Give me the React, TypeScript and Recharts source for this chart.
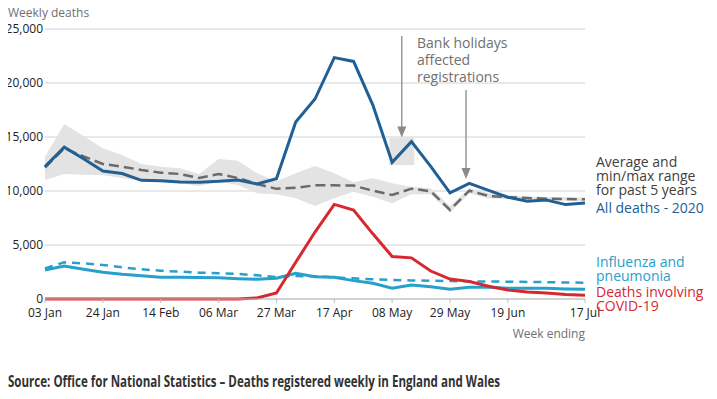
import { ComposedChart, Line, Area, XAxis, YAxis, CartesianGrid, ReferenceArea, ReferenceLine } from "recharts";

const weeks = [
  "03 Jan", "10 Jan", "17 Jan", "24 Jan", "31 Jan", "07 Feb", "14 Feb", "21 Feb", "28 Feb", "06 Mar",
  "13 Mar", "20 Mar", "27 Mar", "03 Apr", "10 Apr", "17 Apr", "24 Apr", "01 May", "08 May", "15 May",
  "22 May", "29 May", "05 Jun", "12 Jun", "19 Jun", "26 Jun", "03 Jul", "10 Jul", "17 Jul",
];
const tickWeeks = [0, 3, 6, 9, 12, 15, 18, 21, 24, 28];
const yTicks = [0, 5000, 10000, 15000, 20000, 25000];

const allDeaths2020 = [12254, 14058, 12990, 11856, 11612, 10986, 10944, 10841, 10816, 10895, 11019, 10645, 11141, 16387, 18516, 22351, 21997, 17953, 12657, 14573, 12288, 9824, 10709, 10050, 9420, 9050, 9160, 8740, 8880];
const avg5yr = [12175, 13950, 13200, 12500, 12250, 11950, 11700, 11575, 11200, 11575, 11200, 10650, 10200, 10300, 10530, 10530, 10500, 10030, 9630, 10215, 9970, 8250, 10030, 9540, 9420, 9350, 9290, 9260, 9230];
const min5yr = [11020, 11575, 11500, 11480, 11180, 10950, 10860, 10710, 10460, 10860, 10550, 9790, 9700, 9320, 8610, 9320, 9940, 9470, 8860, 9700, 9700, 8000, 9800, 9300, 9250, 9200, 9150, 9100, 9080];
const max5yr = [13180, 16200, 15100, 13950, 13330, 12500, 12250, 12100, 11575, 12960, 12800, 11640, 10900, 11640, 12315, 11640, 10800, 11180, 10710, 10400, 10250, 8600, 10250, 9800, 9600, 9500, 9450, 9420, 9400];
const flu2020 = [2685, 3055, 2750, 2470, 2285, 2160, 2010, 2010, 2000, 1970, 1880, 1820, 1915, 2380, 2070, 2010, 1700, 1450, 990, 1300, 1140, 900, 1080, 1080, 990, 990, 990, 930, 900];
const fluAvg5yr = [2840, 3400, 3300, 3150, 2935, 2750, 2620, 2530, 2440, 2380, 2315, 2190, 2030, 2130, 2100, 2000, 1915, 1820, 1760, 1720, 1690, 1660, 1640, 1620, 1600, 1580, 1560, 1530, 1510];
const covid2020 = [0, 0, 0, 0, 0, 0, 0, 0, 0, 0, 5, 103, 560, 3400, 6200, 8758, 8237, 6035, 3930, 3810, 2589, 1850, 1620, 1180, 830, 650, 560, 420, 340];

const data = weeks.map((w, i) => ({
  i,
  week: w,
  all: allDeaths2020[i],
  avg: avg5yr[i],
  range: [min5yr[i], max5yr[i]],
  flu: flu2020[i],
  fluAvg: fluAvg5yr[i],
  covid: covid2020[i],
}));

const FONT = "'Open Sans', sans-serif";
const GREY = "#707070";

function Arrow(props: any) {
  const { x1, y1, x2, y2 } = props;
  return (
    <g>
      <line x1={x1} y1={y1} x2={x2} y2={y2 - 10} stroke="#8a8a8a" strokeWidth={1.3} />
      <polygon points={`${x2 - 4.5},${y2 - 11} ${x2 + 4.5},${y2 - 11} ${x2},${y2}`} fill="#8a8a8a" />
    </g>
  );
}

export default function App() {
  return (
    <div style={{ position: "relative", width: 717, height: 399, fontFamily: FONT }}>
      <div style={{ position: "absolute", left: -8, top: -8, width: 717, height: 399, background: "#fff" }}>
        <ComposedChart
          width={717}
          height={345}
          data={data}
          margin={{ top: 29, right: 132, bottom: 16, left: 0 }}
          style={{ position: "absolute", left: 0, top: 0 }}
        >
          <CartesianGrid vertical={false} stroke="#d2d2d2" />
          <XAxis
            dataKey="i"
            type="number"
            domain={[0, 28]}
            ticks={tickWeeks}
            interval={0}
            tickFormatter={(v: number) => weeks[v]}
            tick={{ fontSize: 12, fill: "#222", fontFamily: FONT, textAnchor: "middle" }}
            tickSize={4}
            tickMargin={5}
            axisLine={{ stroke: "#bdbdbd" }}
            tickLine={{ stroke: "#bdbdbd" }}
            height={30}
          />
          <YAxis
            domain={[0, 25000]}
            ticks={yTicks}
            tickFormatter={(v: number) => v.toLocaleString("en-GB")}
            tick={{ fontSize: 12, fill: "#222", fontFamily: FONT }}
            axisLine={false}
            tickLine={false}
            tickSize={0}
            tickMargin={2}
            width={45}
          />
          <Area dataKey="range" type="linear" fill="#e3e3e3" fillOpacity={1} stroke="none" isAnimationActive={false} />
          <ReferenceArea x1={17.85} x2={19.15} y1={12400} y2={14900} fill="#e3e3e3" fillOpacity={1} stroke="none" />
          <Line dataKey="avg" type="linear" stroke="#6a6a6a" strokeWidth={2.5} strokeDasharray="10 5" dot={false} activeDot={false} isAnimationActive={false} />
          <Line dataKey="all" type="linear" stroke="#206095" strokeWidth={3} dot={false} activeDot={false} isAnimationActive={false} />
          <Line dataKey="fluAvg" type="linear" stroke="#27a0cc" strokeWidth={2.5} strokeDasharray="8 6" dot={false} activeDot={false} isAnimationActive={false} />
          <Line dataKey="flu" type="linear" stroke="#27a0cc" strokeWidth={3} dot={false} activeDot={false} isAnimationActive={false} />
          <Line dataKey="covid" type="linear" stroke="#d7282f" strokeWidth={3} dot={false} activeDot={false} isAnimationActive={false} />
          <ReferenceLine segment={[{ x: 18.5, y: 24350 }, { x: 18.5, y: 14950 }]} shape={Arrow} ifOverflow="visible" />
          <ReferenceLine segment={[{ x: 21.83, y: 19350 }, { x: 21.83, y: 11100 }]} shape={Arrow} ifOverflow="visible" />
        </ComposedChart>
        <svg width={717} height={399} style={{ position: "absolute", left: 0, top: 0, pointerEvents: "none" }} fontFamily={FONT}>
          <text x={8} y={12} fontSize={12} fill={GREY} dominantBaseline="central">Weekly deaths</text>
          <text x={585} y={333} fontSize={12} fill={GREY} textAnchor="end" dominantBaseline="central">Week ending</text>
          <g fontSize={14} fill={GREY}>
            <text x={417} y={42} dominantBaseline="central">Bank holidays</text>
            <text x={417} y={59} dominantBaseline="central">affected</text>
            <text x={417} y={76} dominantBaseline="central">registrations</text>
          </g>
          <g fontSize={14} fill="#414042">
            <text x={596} y={161} dominantBaseline="central">Average and</text>
            <text x={596} y={175} dominantBaseline="central">min/max range</text>
            <text x={596} y={189} dominantBaseline="central">for past 5 years</text>
          </g>
          <text x={596} y={207} fontSize={14} fill="#206095" dominantBaseline="central">All deaths - 2020</text>
          <g fontSize={14} fill="#27a0cc">
            <text x={596} y={261} dominantBaseline="central">Influenza and</text>
            <text x={596} y={275} dominantBaseline="central">pneumonia</text>
          </g>
          <g fontSize={14} fill="#d7282f">
            <text x={596} y={291} dominantBaseline="central">Deaths involving</text>
            <text x={596} y={305} dominantBaseline="central">COVID-19</text>
          </g>
          <text x={8} y={381} fontSize={16} fontWeight="bold" fill="#323132" dominantBaseline="central" textLength={492} lengthAdjust="spacingAndGlyphs">
            Source: Office for National Statistics – Deaths registered weekly in England and Wales
          </text>
        </svg>
      </div>
    </div>
  );
}
